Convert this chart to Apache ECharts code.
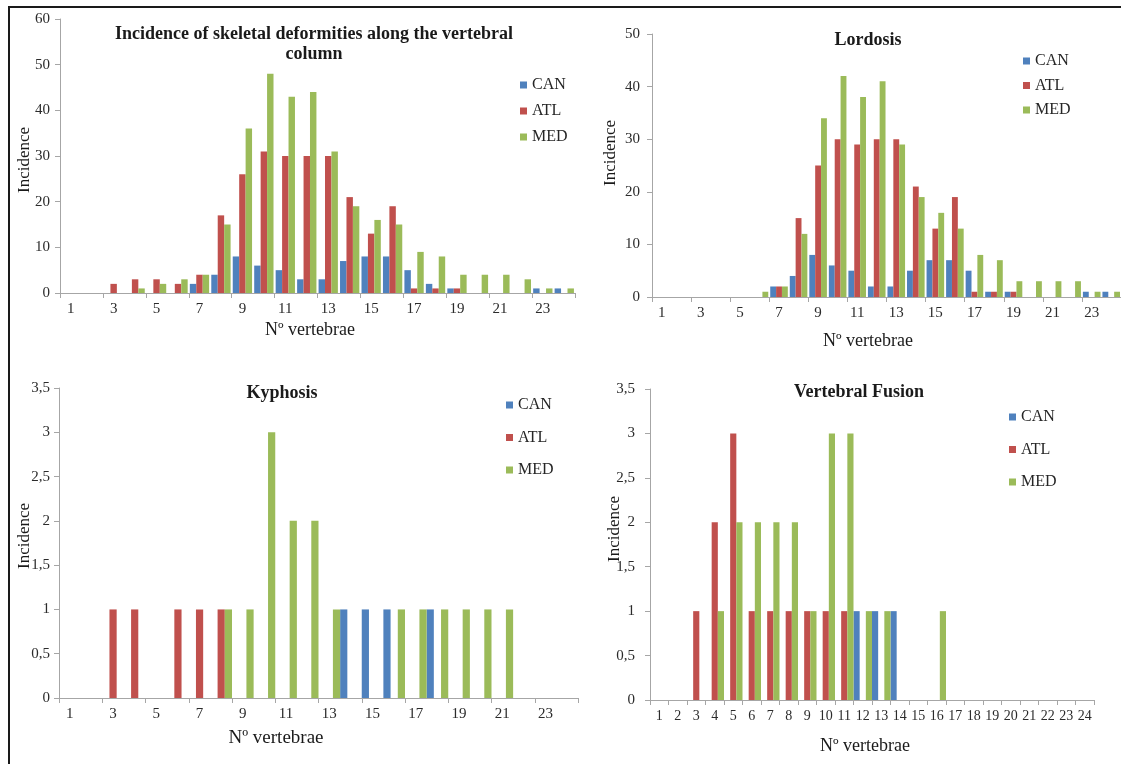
<!DOCTYPE html>
<html>
<head>
<meta charset="utf-8">
<script src="https://cdn.jsdelivr.net/npm/echarts@6/dist/echarts.min.js"></script>
<style>
  html, body { margin: 0; padding: 0; background: #ffffff; }
  #chart { width: 1121px; height: 764px; }
</style>
</head>
<body>
<div id="chart"></div>
<script>
// Vertebra numbers along the column
const vertebrae = ['1','2','3','4','5','6','7','8','9','10','11','12',
                   '13','14','15','16','17','18','19','20','21','22','23','24'];

// All skeletal deformities
const totalCAN = [0,0,0,0,0,0,2,4,8,6,5,3,3,7,8,8,5,2,1,0,0,0,1,1];
const totalATL = [0,0,2,3,3,2,4,17,26,31,30,30,30,21,13,19,1,1,1,0,0,0,0,0];
const totalMED = [0,0,0,1,2,3,4,15,36,48,43,44,31,19,16,15,9,8,4,4,4,3,1,1];

// Lordosis
const lordCAN = [0,0,0,0,0,0,2,4,8,6,5,2,2,5,7,7,5,1,1,0,0,0,1,1];
const lordATL = [0,0,0,0,0,0,2,15,25,30,29,30,30,21,13,19,1,1,1,0,0,0,0,0];
const lordMED = [0,0,0,0,0,1,2,12,34,42,38,41,29,19,16,13,8,7,3,3,3,3,1,1];

// Kyphosis
const kyphCAN = [0,0,0,0,0,0,0,0,0,0,0,0,0,1,1,1,0,1,0,0,0,0,0,0];
const kyphATL = [0,0,1,1,0,1,1,1,0,0,0,0,0,0,0,0,0,0,0,0,0,0,0,0];
const kyphMED = [0,0,0,0,0,0,0,1,1,3,2,2,1,0,0,1,1,1,1,1,1,0,0,0];

// Vertebral fusion
const fusCAN = [0,0,0,0,0,0,0,0,0,0,0,1,1,1,0,0,0,0,0,0,0,0,0,0];
const fusATL = [0,0,1,2,3,1,1,1,1,1,1,0,0,0,0,0,0,0,0,0,0,0,0,0];
const fusMED = [0,0,0,1,2,2,2,2,1,3,3,1,1,0,0,1,0,0,0,0,0,0,0,0];

const seriesNames = ['CAN', 'ATL', 'MED'];
const colors = { CAN: '#4f81bd', ATL: '#c0504d', MED: '#9bbb59' };

const FONT = 'Liberation Serif';
const AXIS_GREY = '#a6a6a6';
const LABEL_COLOR = '#2b2b2b';

// Panel geometry
const panels = [
  { grid: { left: 60, top: 19, width: 515, height: 274 },
    yMax: 60, yStep: 10, yMargin: 10, xEvery: 1, xFont: 15, gap: '10%',
    data: [totalCAN, totalATL, totalMED] },
  { grid: { left: 652, top: 34, width: 469, height: 263 },
    yMax: 50, yStep: 10, yMargin: 12, xEvery: 1, xFont: 15, gap: '10%',
    data: [lordCAN, lordATL, lordMED] },
  { grid: { left: 59, top: 388, width: 519, height: 310 },
    yMax: 3.5, yStep: 0.5, yMargin: 9, xEvery: 1, xFont: 15, gap: '0%',
    data: [kyphCAN, kyphATL, kyphMED] },
  { grid: { left: 650, top: 389, width: 444, height: 311 },
    yMax: 3.5, yStep: 0.5, yMargin: 15, xEvery: 0, xFont: 14, gap: '0%',
    data: [fusCAN, fusATL, fusMED] }
];

const legends = [
  { left: 520, top: 77, itemGap: 10 },
  { left: 1023, top: 53, itemGap: 8.5 },
  { left: 506, top: 397, itemGap: 16.5 },
  { left: 1009, top: 409, itemGap: 16.5 }
];

const grids = [], xAxes = [], yAxes = [], series = [];
panels.forEach((p, i) => {
  grids.push(Object.assign({ containLabel: false, outerBoundsMode: 'none' }, p.grid));
  xAxes.push({
    type: 'category', gridIndex: i, data: vertebrae,
    axisLine: { lineStyle: { color: AXIS_GREY, width: 1 } },
    axisTick: { show: true, length: 5, lineStyle: { color: AXIS_GREY } },
    axisLabel: { interval: p.xEvery, margin: 9, color: LABEL_COLOR,
                 fontFamily: FONT, fontSize: p.xFont },
    splitLine: { show: false }
  });
  yAxes.push({
    type: 'value', gridIndex: i, min: 0, max: p.yMax, interval: p.yStep,
    axisLine: { show: true, lineStyle: { color: AXIS_GREY, width: 1 } },
    axisTick: { show: true, length: 5, lineStyle: { color: AXIS_GREY } },
    axisLabel: { margin: p.yMargin, color: LABEL_COLOR, fontFamily: FONT, fontSize: 15,
                 formatter: v => String(v).replace('.', ',') },
    splitLine: { show: false }
  });
  p.data.forEach((vals, k) => {
    const name = seriesNames[k];
    series.push({
      type: 'bar', name: name, xAxisIndex: i, yAxisIndex: i,
      data: vals, barGap: '0%', barCategoryGap: p.gap,
      itemStyle: { color: colors[name] },
      emphasis: { disabled: true }
    });
  });
});

const legendList = legends.map(l => ({
  orient: 'vertical', left: l.left, top: l.top, itemGap: l.itemGap, padding: 0,
  icon: 'rect', itemWidth: 7, itemHeight: 7,
  data: seriesNames,
  textStyle: { fontFamily: FONT, fontSize: 16, color: '#262626' }
}));

function txt(x, y, text, size, bold, rotate) {
  return {
    type: 'text', x: x, y: y, rotation: rotate ? Math.PI / 2 : 0,
    style: { text: text, fill: '#1a1a1a', font: (bold ? 'bold ' : '') + size + 'px "' + FONT + '"',
             align: 'center', verticalAlign: 'middle', lineHeight: 19.5 }
  };
}

const graphics = [
  // frame
  { type: 'line', shape: { x1: 8, y1: 7, x2: 1121, y2: 7 }, style: { stroke: '#1a1a1a', lineWidth: 2 } },
  { type: 'line', shape: { x1: 9, y1: 6, x2: 9, y2: 764 }, style: { stroke: '#1a1a1a', lineWidth: 2 } },
  // panel titles
  txt(314, 44.5, 'Incidence of skeletal deformities along the vertebral\ncolumn', 18, true),
  txt(868, 40, 'Lordosis', 18, true),
  txt(282, 393, 'Kyphosis', 18, true),
  txt(859, 392, 'Vertebral Fusion', 18, true),
  // x-axis names
  txt(310, 330, 'Nº vertebrae', 18),
  txt(868, 341, 'Nº vertebrae', 18),
  txt(276, 738, 'Nº vertebrae', 19),
  txt(865, 746, 'Nº vertebrae', 18),
  // y-axis names
  txt(25, 160, 'Incidence', 17, false, true),
  txt(611, 153, 'Incidence', 17, false, true),
  txt(25, 536, 'Incidence', 17, false, true),
  txt(615, 529, 'Incidence', 17, false, true)
];

const chart = echarts.init(document.getElementById('chart'), null, { renderer: 'canvas' });
chart.setOption({
  animation: false,
  backgroundColor: '#ffffff',
  grid: grids,
  xAxis: xAxes,
  yAxis: yAxes,
  legend: legendList,
  series: series,
  graphic: graphics
});
</script>
</body>
</html>
